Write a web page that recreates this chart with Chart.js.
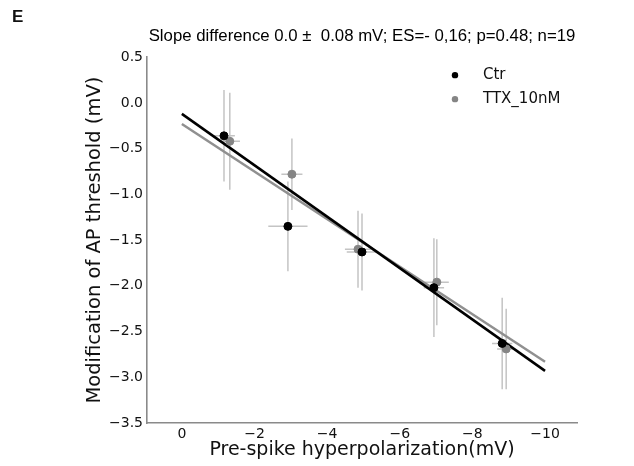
<!DOCTYPE html>
<html lang="en">
<head>
    <meta charset="UTF-8">
    <title>AP threshold vs pre-spike hyperpolarization</title>
    <script src="https://cdn.jsdelivr.net/npm/chart.js"></script>
    <style>
        body { margin: 0; background: #fff; }
        #wrap { position: relative; width: 634px; height: 466px; }
        #panel { position: absolute; left: 12px; top: 7px; font: bold 17px "Liberation Sans", sans-serif; color: #111; }
    </style>
</head>
<body>
<div id="wrap">
    <canvas id="myChart" width="634" height="466"></canvas>
    <div id="panel">E</div>
</div>
<script>
    // data
    var seriesNames = ['Ctr', 'TTX_10nM'];
    var ctrX = [-1.16, -2.92, -4.96, -6.94, -8.82];
    var ctrY = [-0.36, -1.35, -1.63, -2.02, -2.63];
    var ctrXErr = [0.30, 0.54, 0.42, 0.28, 0.28];
    var ctrYErr = [0.50, 0.49, 0.42, 0.54, 0.50];

    var ttxX = [-1.32, -3.03, -4.85, -7.02, -8.93];
    var ttxY = [-0.42, -0.78, -1.60, -1.96, -2.69];
    var ttxXErr = [0.28, 0.29, 0.36, 0.33, 0.25];
    var ttxYErr = [0.53, 0.39, 0.42, 0.47, 0.44];

    // regression lines (endpoints)
    var fitX = [0, -10];
    var ctrFit = [-0.12, -2.93];
    var ttxFit = [-0.23, -2.83];

    var xTicks = [0, -2, -4, -6, -8, -10];
    var yTicks = [0.5, 0.0, -0.5, -1.0, -1.5, -2.0, -2.5, -3.0, -3.5];

    var ctrColor = '#000000';
    var ttxColor = '#858585';
    var fitGrey = '#909090';
    var errColor = '#c4c4c4';

    function pts(xs, ys) {
        return xs.map(function (x, i) { return { x: x, y: ys[i] }; });
    }
    function minus(s) { return String(s).replace('-', '\u2212'); }

    // draws x/y error bars under the points
    var errorBars = {
        id: 'errorBars',
        beforeDatasetsDraw: function (chart) {
            var ctx = chart.ctx, xs = chart.scales.x, ys = chart.scales.y;
            var sets = [[ctrX, ctrY, ctrXErr, ctrYErr], [ttxX, ttxY, ttxXErr, ttxYErr]];
            ctx.save();
            ctx.strokeStyle = errColor;
            ctx.lineWidth = 1.5;
            sets.forEach(function (s) {
                for (var i = 0; i < s[0].length; i++) {
                    var px = xs.getPixelForValue(s[0][i]);
                    var py = ys.getPixelForValue(s[1][i]);
                    ctx.beginPath();
                    ctx.moveTo(px, ys.getPixelForValue(s[1][i] + s[3][i]));
                    ctx.lineTo(px, ys.getPixelForValue(s[1][i] - s[3][i]));
                    ctx.moveTo(xs.getPixelForValue(s[0][i] + s[2][i]), py);
                    ctx.lineTo(xs.getPixelForValue(s[0][i] - s[2][i]), py);
                    ctx.stroke();
                }
            });
            ctx.restore();
        }
    };

    // legend inside the plot, top right
    var insideLegend = {
        id: 'insideLegend',
        afterDraw: function (chart) {
            var ctx = chart.ctx, a = chart.chartArea;
            var colors = [ctrColor, ttxColor];
            ctx.save();
            ctx.font = '15px "DejaVu Sans"';
            ctx.textBaseline = 'middle';
            seriesNames.forEach(function (name, i) {
                var y = a.top + 18 + i * 24;
                ctx.fillStyle = colors[i];
                ctx.beginPath();
                ctx.arc(a.left + 308, y, 3.2, 0, Math.PI * 2);
                ctx.fill();
                ctx.fillStyle = '#111';
                ctx.fillText(name, a.left + 336, y);
            });
            ctx.restore();
        }
    };

    var ctx = document.getElementById('myChart').getContext('2d');
    var myChart = new Chart(ctx, {
        type: 'scatter',
        data: {
            datasets: [
                { label: seriesNames[0], data: pts(ctrX, ctrY), backgroundColor: ctrColor, borderColor: ctrColor, pointRadius: 4, order: 0 },
                { label: seriesNames[1], data: pts(ttxX, ttxY), backgroundColor: ttxColor, borderColor: ttxColor, pointRadius: 4, order: 0 },
                { type: 'line', label: 'fit ttx', data: pts(fitX, ttxFit), borderColor: fitGrey, borderWidth: 2.5, pointRadius: 0, fill: false, order: 2 },
                { type: 'line', label: 'fit ctr', data: pts(fitX, ctrFit), borderColor: ctrColor, borderWidth: 2.5, pointRadius: 0, fill: false, order: 1 }
            ]
        },
        options: {
            responsive: false,
            animation: false,
            layout: { padding: { left: 0, right: 57, top: 0, bottom: 0 } },
            plugins: {
                legend: { display: false },
                tooltip: { enabled: false },
                title: {
                    display: true,
                    fullSize: false,
                    text: 'Slope difference 0.0 \u00b1  0.08 mV; ES=- 0,16; p=0.48; n=19',
                    color: '#000',
                    font: { family: '"Liberation Sans"', size: 16.8, weight: 'normal' },
                    padding: { top: 26, bottom: 11 }
                }
            },
            scales: {
                x: {
                    type: 'linear',
                    reverse: true,
                    min: -10.88,
                    max: 0.96,
                    afterBuildTicks: function (s) { s.ticks = xTicks.map(function (v) { return { value: v }; }); },
                    afterFit: function (s) { s.height = 43; },
                    grid: { display: false, drawTicks: false },
                    border: { display: true, color: '#8a8a8a', width: 1.6 },
                    ticks: {
                        color: '#111', padding: 3, maxRotation: 0,
                        font: { family: '"DejaVu Sans"', size: 14 },
                        callback: function (v) { return minus(v); }
                    },
                    title: {
                        display: true,
                        text: 'Pre-spike hyperpolarization(mV)',
                        color: '#111',
                        font: { family: '"DejaVu Sans"', size: 19 },
                        padding: { top: 0, bottom: 4.6 }
                    }
                },
                y: {
                    type: 'linear',
                    min: -3.5,
                    max: 0.5,
                    afterBuildTicks: function (s) { s.ticks = yTicks.map(function (v) { return { value: v }; }); },
                    afterFit: function (s) { s.width = 147; },
                    grid: { display: false, drawTicks: false },
                    border: { display: true, color: '#8a8a8a', width: 1.6 },
                    ticks: {
                        color: '#111', padding: 4,
                        font: { family: '"DejaVu Sans"', size: 14 },
                        callback: function (v) { return minus(v.toFixed(1)); }
                    },
                    title: {
                        display: true,
                        text: 'Modification of AP threshold (mV)',
                        color: '#111',
                        font: { family: '"DejaVu Sans"', size: 19.5 },
                        padding: { top: 83, bottom: 0 }
                    }
                }
            }
        },
        plugins: [errorBars, insideLegend]
    });
</script>
</body>
</html>
